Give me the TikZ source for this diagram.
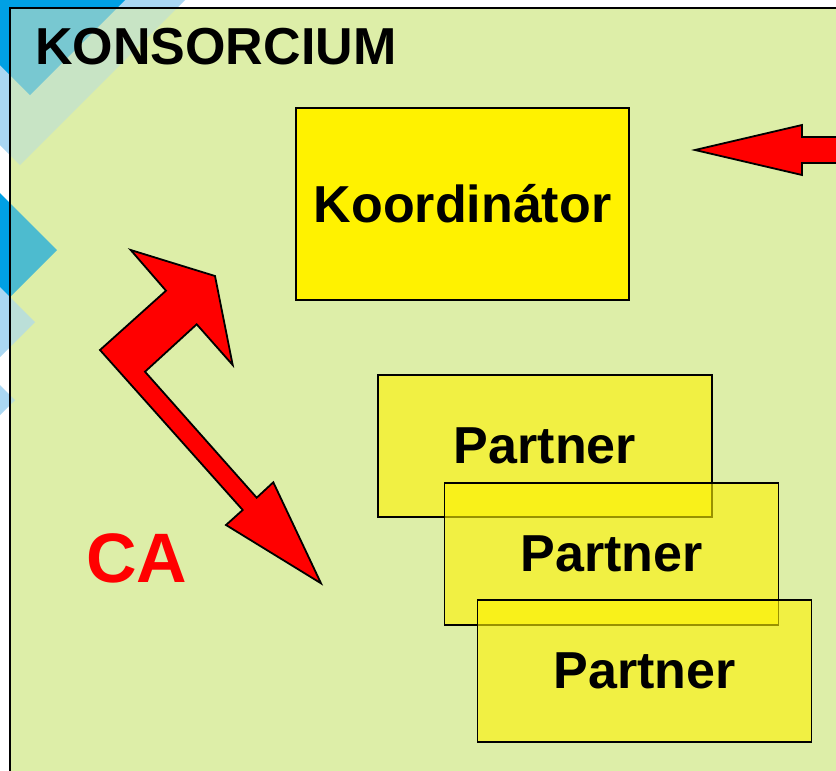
\documentclass[tikz,border=0pt]{standalone}
\usepackage{fontspec}
\setmainfont{Liberation Sans}
\usepackage{xcolor}
\usetikzlibrary{positioning}
%
\definecolor{konsbg}{RGB}{221,238,168}
\definecolor{decoblue}{RGB}{0,160,228}
\definecolor{decolight}{RGB}{170,215,242}
%
% blue diamonds of the slide background
\newcommand{\kdiamond}[4]{\fill[#1] (#2-#4,#3) -- (#2,#3-#4) -- (#2+#4,#3) -- (#2,#3+#4) -- cycle;}
\newcommand{\kdecor}[2]{%
  \kdiamond{decolight,opacity=#1}{20}{0}{165}
  \kdiamond{decoblue,opacity=#1}{30}{-30}{125}
  \kdiamond{decoblue,opacity=#2}{0}{250}{57}
  \kdiamond{decolight,opacity=#2}{-5}{322}{40}
  \kdiamond{decolight,opacity=#2}{-10}{400}{25}}
%
\begin{document}
\begin{tikzpicture}[x=1pt, y=-1pt, semithick, inner sep=0pt,
  box/.style={draw, line width=1.6pt, fill=yellow, font=\fontsize{52}{60}\selectfont\bfseries,
    minimum width=333pt, minimum height=192pt},
  partnerbox/.style={draw, line width=1.6pt, fill=yellow, fill opacity=0.6, text opacity=1,
    font=\fontsize{52}{60}\selectfont\bfseries, minimum width=334pt, minimum height=142pt},
  bigarrow/.style={draw, line width=1.8pt, fill=red, line join=miter}]
%
\useasboundingbox (0,0) rectangle (836,771);
\clip (0,0) rectangle (836,771);
\fill[white] (0,0) rectangle (836,771);
\kdecor{1}{1}
%
\begin{scope}
\clip (10,8) rectangle (836,771);
\fill[konsbg] (10,8) rectangle (836,771);
\kdecor{0.4}{0.65}
\end{scope}
\draw[line width=2.5pt] (10,8) rectangle (850,790);
%
\node[anchor=base west, font=\fontsize{52}{60}\selectfont\bfseries] (title) at (35,64) {KONSORCIUM};
\node[box] (koord) at (462.5,204) {Koordinátor};
%
\node[partnerbox] (partner1) at (545,446) {Partner};
\node[partnerbox] (partner2) at (611.5,554) {Partner};
\node[partnerbox] (partner3) at (644.5,671) {Partner};
%
\node[anchor=base west, text=red, font=\fontsize{70}{80}\selectfont\bfseries] (ca) at (86,582) {CA};
%
\draw[bigarrow] (695,150) -- (802,125) -- (802,137) -- (850,137) -- (850,163) -- (802,163) -- (802,175) -- cycle;
\draw[bigarrow] (130.7,250) -- (215,276) -- (232.7,365) -- (196.7,324.3) -- (145,371.7) -- (256.7,497.7)
  -- (273.3,482.3) -- (321,583.3) -- (226,525) -- (242.7,510) -- (100,350) -- (166,290.7) -- cycle;
\end{tikzpicture}
\end{document}
